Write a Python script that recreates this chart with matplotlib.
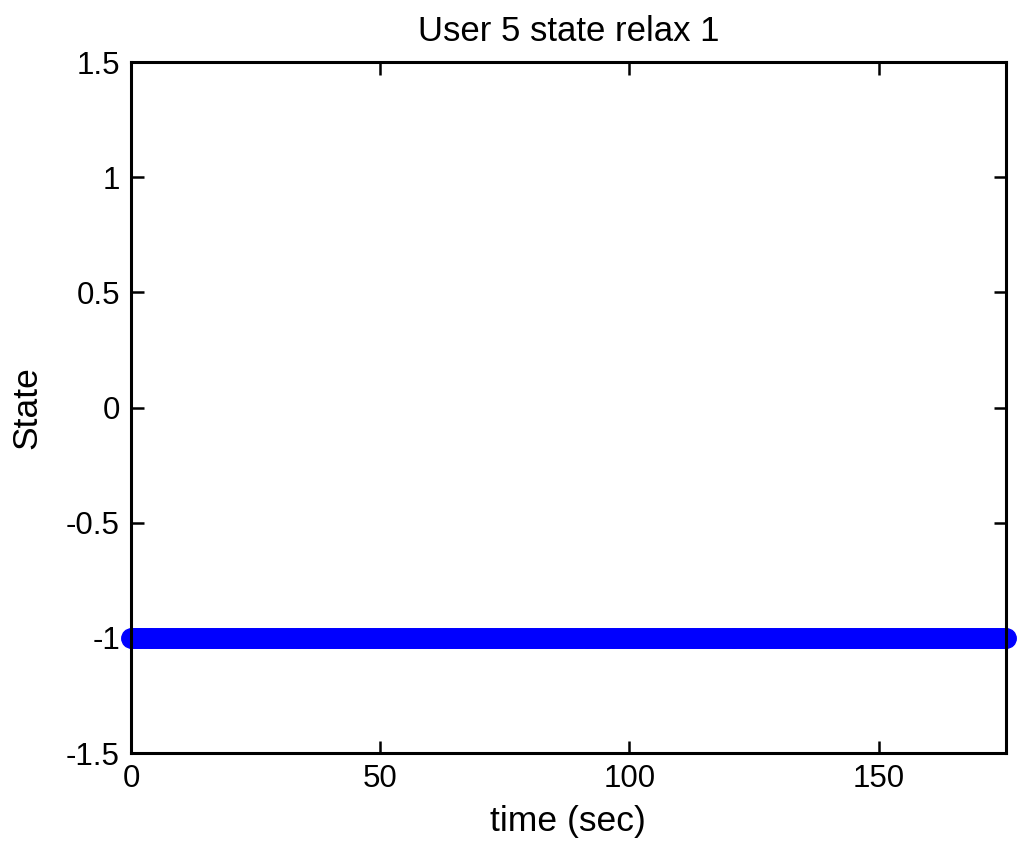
import matplotlib
matplotlib.use("Agg")
import matplotlib.pyplot as plt
import numpy as np

plt.rcParams['font.family'] = ['Liberation Sans', 'DejaVu Sans']
plt.rcParams['axes.unicode_minus'] = False

# samples every half second, user stays in state -1 the whole run
time_sec = np.arange(0, 175.6, 0.5)
state = np.full(len(time_sec), -1.0)

x_ticks = [0, 50, 100, 150]
y_ticks = [-1.5, -1, -0.5, 0, 0.5, 1, 1.5]
y_tick_labels = ['-1.5', '-1', '-0.5', '0', '0.5', '1', '1.5']

fig = plt.figure(figsize=(10.24, 8.5), dpi=100)
ax = fig.add_axes((0.128, 0.114, 0.854, 0.813))

ax.plot(time_sec, state, 'o', color='#0000ff', markersize=14, clip_on=False)

ax.set_xlim(0, 175.5)
ax.set_ylim(-1.5, 1.5)
ax.set_xticks(x_ticks)
ax.set_xticklabels([str(t) for t in x_ticks])
ax.set_yticks(y_ticks)
ax.set_yticklabels(y_tick_labels)
ax.tick_params(direction='in', length=9, width=1.8, labelsize=22.5, top=True, right=True, pad=8)
for sp in ax.spines.values():
    sp.set_linewidth(2.2)

ax.set_title('User 5 state relax 1', fontsize=25, pad=15)
ax.set_xlabel('time (sec)', fontsize=25.5, labelpad=8)
ax.set_ylabel('State', fontsize=25.5, labelpad=16)

fig.savefig('out.png', dpi=100)
